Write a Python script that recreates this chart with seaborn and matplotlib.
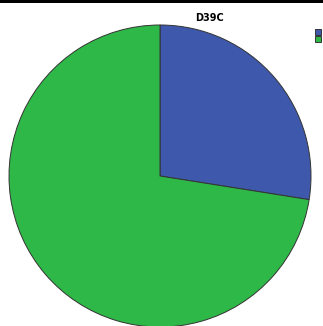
import matplotlib
matplotlib.use("Agg")
import matplotlib.pyplot as plt
import seaborn as sns
from matplotlib.patches import Rectangle

#data
labels = ["0", "1"]
shares = [27.5, 72.5]
colors = ["#3E58AC", "#2EB848"]

sns.set_theme(style="white")
plt.rcParams['font.family'] = ['DejaVu Sans']

fig = plt.figure(figsize=(3.23, 3.26), dpi=100)
fig.patch.set_facecolor("white")

#thin black strip across the top
fig.add_artist(Rectangle((0, 1 - 3 / 326), 1, 3 / 326, transform=fig.transFigure,
                         facecolor="black", edgecolor="none"))

W, H = 323, 326
cx, cy, r = 160, 176, 151
ax = fig.add_axes([(cx - r) / W, (H - cy - r) / H, 2 * r / W, 2 * r / H])
wedges, _ = ax.pie(shares, colors=sns.color_palette(colors), startangle=90, counterclock=False,
                   wedgeprops=dict(edgecolor="#333333", linewidth=0.7))
ax.set_xlim(-1, 1)
ax.set_ylim(-1, 1)
ax.set_aspect("equal")
ax.axis("off")

fig.text(209 / W, 1 - 18 / H, "D39C", ha="center", va="center", fontsize=7,
         fontweight="bold", color="black")

#legend sits at the right edge, its labels run off the picture as in the reference
fig.legend(wedges, labels, loc="upper left", bbox_to_anchor=(312 / W, 1 - 26 / H),
           frameon=False, fontsize=5, handlelength=0.85, handleheight=0.85,
           handletextpad=0.3, labelspacing=0.12, borderpad=0, labelcolor="#666666")

fig.savefig("out.png", dpi=100)
